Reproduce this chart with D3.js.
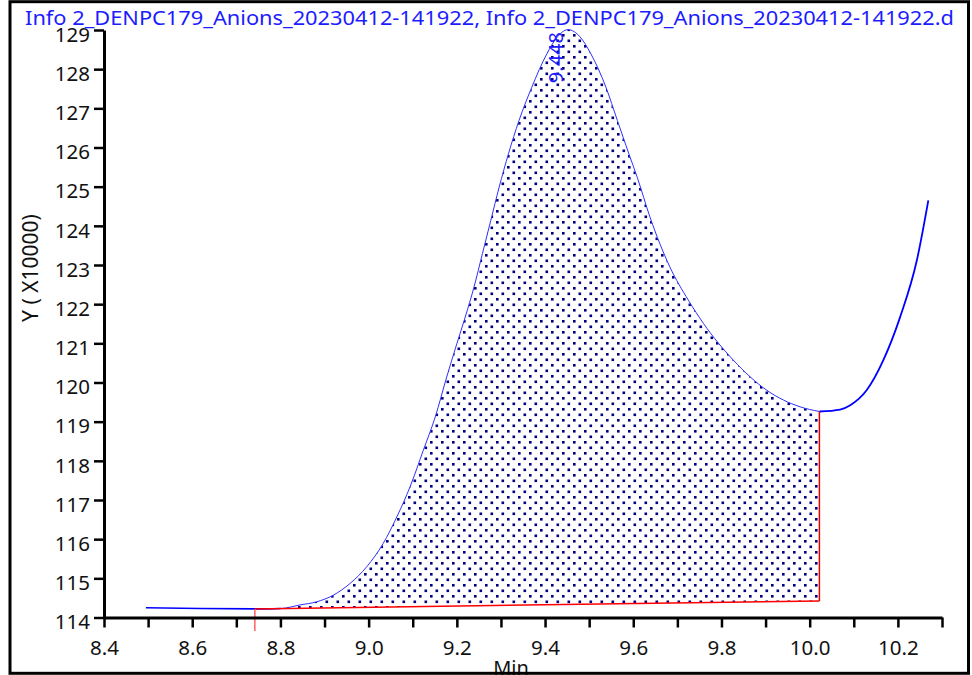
<!DOCTYPE html>
<html><head><meta charset="utf-8">
<script src="https://cdn.jsdelivr.net/npm/d3@7"></script>
<style>html,body{margin:0;padding:0;background:#fff;} svg{display:block;font-family:"Noto Sans",sans-serif;}</style>
</head><body><svg id="c" width="972" height="675"></svg>
<script>
const titleText = "Info 2_DENPC179_Anions_20230412-141922, Info 2_DENPC179_Anions_20230412-141922.d";
const xTitle = "Min";
const yTitle = "Y ( X10000)";
// retention time (min)
const times = [8.495, 8.618, 8.742, 8.801, 8.844, 8.882, 8.920, 8.958, 8.996, 9.033, 9.064, 9.094, 9.124, 9.151, 9.177, 9.200, 9.219, 9.239, 9.258, 9.277, 9.296, 9.317, 9.341, 9.370, 9.404, 9.425, 9.452, 9.479, 9.504, 9.538, 9.564, 9.590, 9.609, 9.638, 9.683, 9.725, 9.759, 9.827, 9.903, 9.978, 10.022, 10.069, 10.092, 10.129, 10.167, 10.205, 10.243, 10.269];
// signal (x10000)
const values = [114.25, 114.23, 114.22, 114.23, 114.32, 114.40, 114.57, 114.87, 115.30, 115.89, 116.57, 117.34, 118.27, 119.12, 120.14, 120.99, 121.67, 122.44, 123.29, 124.14, 124.99, 125.84, 126.69, 127.54, 128.39, 128.78, 129.01, 128.83, 128.39, 127.54, 126.69, 125.84, 125.24, 124.22, 122.95, 122.10, 121.51, 120.57, 119.80, 119.38, 119.26, 119.31, 119.42, 119.80, 120.57, 121.67, 123.12, 124.65];
// integration baseline
const baseTimes = [8.742, 10.022];
const baseValues = [114.22, 114.42];
const peakTime = 9.448;
const peakValue = 129.0;
const peakLabel = "9.448";
const xTicks = [8.4, 8.5, 8.6, 8.7, 8.8, 8.9, 9.0, 9.1, 9.2, 9.3, 9.4, 9.5, 9.6, 9.7, 9.8, 9.9, 10.0, 10.1, 10.2, 10.3];
const xTickLabels = ["8.4", "", "8.6", "", "8.8", "", "9.0", "", "9.2", "", "9.4", "", "9.6", "", "9.8", "", "10.0", "", "10.2", ""];
const yTicks = [114, 115, 116, 117, 118, 119, 120, 121, 122, 123, 124, 125, 126, 127, 128, 129];

const svg = d3.select("#c");
const x = d3.scaleLinear().domain([8.4, 10.3]).range([104, 942]);
const y = d3.scaleLinear().domain([114, 129]).range([617.5, 30]);

const pts = times.map((t, i) => ({t, v: values[i]}));
const baseAt = d3.scaleLinear().domain(baseTimes).range(baseValues);

// pattern
const defs = svg.append("defs");
const pat = defs.append("pattern").attr("id", "dots").attr("patternUnits", "userSpaceOnUse")
  .attr("width", 11).attr("height", 11).attr("x", 0).attr("y", 0);
pat.append("rect").attr("x", 1).attr("y", 1).attr("width", 2.6).attr("height", 2.6).attr("fill", "#000080");
pat.append("rect").attr("x", 6.5).attr("y", 6.5).attr("width", 2.6).attr("height", 2.6).attr("fill", "#000080");

const inPeak = pts.filter(p => p.t >= baseTimes[0] && p.t <= baseTimes[1]);
const area = d3.area().x(d => x(d.t)).y1(d => y(d.v)).y0(d => y(baseAt(d.t))).curve(d3.curveMonotoneX);
svg.append("path").datum(inPeak).attr("d", area).attr("fill", "url(#dots)").attr("stroke", "none");

const line = d3.line().x(d => x(d.t)).y(d => y(d.v)).curve(d3.curveMonotoneX);
const leftSeg = pts.filter(p => p.t <= 8.801);
const rightSeg = pts.filter(p => p.t >= baseTimes[1]);
svg.append("path").datum(inPeak).attr("d", line).attr("fill", "none").attr("stroke", "#3030ff").attr("stroke-width", 1);
svg.append("path").datum(leftSeg).attr("d", line).attr("fill", "none").attr("stroke", "#0000ff").attr("stroke-width", 1.6);
svg.append("path").datum(rightSeg).attr("d", line).attr("fill", "none").attr("stroke", "#0000ff").attr("stroke-width", 1.8);

// baseline (red)
svg.append("line").attr("x1", x(baseTimes[0])).attr("y1", y(baseValues[0])).attr("x2", x(baseTimes[1])).attr("y2", y(baseValues[1]))
  .attr("stroke", "#ff0000").attr("stroke-width", 1.5);
svg.append("line").attr("x1", x(baseTimes[0])).attr("y1", y(baseValues[0])).attr("x2", x(baseTimes[0])).attr("y2", y(baseValues[0]) + 22)
  .attr("stroke", "#ff6060").attr("stroke-width", 1.5);
svg.append("line").attr("x1", x(baseTimes[1])).attr("y1", y(baseValues[1])).attr("x2", x(baseTimes[1])).attr("y2", y(values[times.indexOf(baseTimes[1])]))
  .attr("stroke", "#e00000").attr("stroke-width", 1.5);

// axes
const xAxis = d3.axisBottom(x).tickValues(xTicks).tickFormat((d, i) => xTickLabels[i]).tickSize(10).tickSizeOuter(0).tickPadding(13);
const gx = svg.append("g").attr("transform", `translate(0,${y(114)})`).call(xAxis);
gx.select(".domain").attr("stroke", "#000").attr("stroke-width", 3);
gx.selectAll(".tick line").attr("stroke", "#000").attr("stroke-width", 2.5);
gx.selectAll(".tick text").attr("font-size", 20.5).attr("fill", "#111").attr("font-family", '"Noto Sans",sans-serif');

const yAxis = d3.axisLeft(y).tickValues(yTicks).tickFormat(d3.format("d")).tickSize(10).tickSizeOuter(0).tickPadding(4);
const gy = svg.append("g").attr("transform", `translate(${x(8.4)},0)`).call(yAxis);
gy.select(".domain").attr("stroke", "#000").attr("stroke-width", 3);
gy.selectAll(".tick line").attr("stroke", "#000").attr("stroke-width", 2.5);
gy.selectAll(".tick text").attr("font-size", 20.5).attr("fill", "#111").attr("dy", "0.55em").attr("font-family", '"Noto Sans",sans-serif');

// peak label
svg.append("text").attr("transform", `translate(${x(peakTime) - 3},${y(peakValue) + 2}) rotate(-90)`)
  .attr("text-anchor", "end").attr("font-size", 20).attr("fill", "#1c1cff").text(peakLabel);

// titles
svg.append("text").attr("x", 25).attr("y", 25).attr("font-size", 19.5).attr("fill", "#1c1cff")
  .attr("textLength", 929).attr("lengthAdjust", "spacingAndGlyphs").text(titleText);
svg.append("text").attr("transform", "translate(38,268) rotate(-90)").attr("text-anchor", "middle")
  .attr("font-size", 21).attr("fill", "#111").text(yTitle);
svg.append("text").attr("x", 511).attr("y", 675).attr("text-anchor", "middle").attr("font-size", 20).attr("fill", "#111").text(xTitle);

// border
svg.append("rect").attr("x", 10).attr("y", 1.7).attr("width", 958.5).attr("height", 671.6)
  .attr("fill", "none").attr("stroke", "#000").attr("stroke-width", 3);
</script></body></html>
